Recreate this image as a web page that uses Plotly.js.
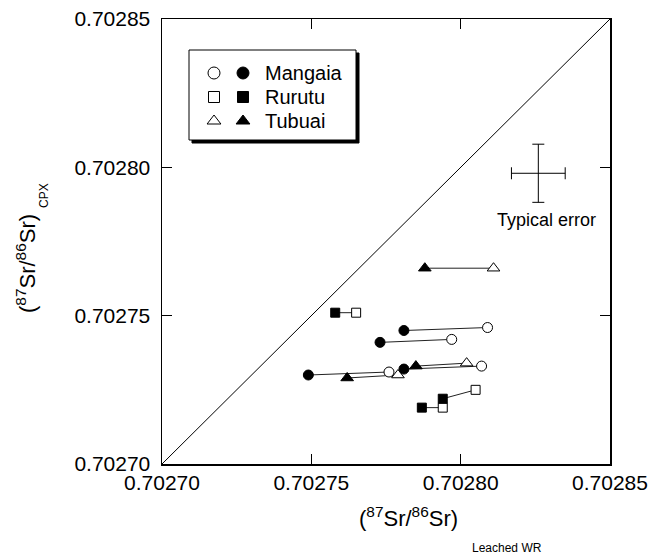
<!DOCTYPE html>
<html>
<head>
<meta charset="utf-8">
<script src="https://cdn.plot.ly/plotly-3.0.1.min.js"></script>
<style>html,body{margin:0;padding:0;background:#fff;}#plot{width:650px;height:559px;}</style>
</head>
<body>
<div id="plot"></div>
<script>
// ---- data ----
const tickVals = [0.70270, 0.70275, 0.70280, 0.70285];
const tickText = ['0.70270', '0.70275', '0.70280', '0.70285'];
const axisRange = [0.70270, 0.70285];

const mangaiaFilledX = [0.702781, 0.702773, 0.702749, 0.702781];
const mangaiaFilledY = [0.702745, 0.702741, 0.702730, 0.702732];
const mangaiaOpenX   = [0.702809, 0.702797, 0.702776, 0.702807];
const mangaiaOpenY   = [0.702746, 0.702742, 0.702731, 0.702733];

const rurutuFilledX = [0.702758, 0.702794, 0.702787];
const rurutuFilledY = [0.702751, 0.702722, 0.702719];
const rurutuOpenX   = [0.702765, 0.702805, 0.702794];
const rurutuOpenY   = [0.702751, 0.702725, 0.702719];

const tubuaiFilledX = [0.702788, 0.702762, 0.702785];
const tubuaiFilledY = [0.702766, 0.702729, 0.702733];
const tubuaiOpenX   = [0.702811, 0.702779, 0.702802];
const tubuaiOpenY   = [0.702766, 0.702730, 0.702734];

const errorX = [0.702826];
const errorY = [0.702798];
const errorHalfX = [0.000009];
const errorHalfY = [0.0000098];

const legendNames = ['Mangaia', 'Rurutu', 'Tubuai'];
const legendSymbols = ['circle', 'square', 'triangle-up'];

// ---- build traces ----
const traces = [];
// 1:1 line
traces.push({x: axisRange, y: axisRange, mode: 'lines', line: {color: '#000', width: 1}, hoverinfo: 'skip'});

function pairLines(fx, fy, ox, oy) {
  const xs = [], ys = [];
  for (let i = 0; i < fx.length; i++) { xs.push(fx[i], ox[i], null); ys.push(fy[i], oy[i], null); }
  return {x: xs, y: ys, mode: 'lines', line: {color: '#222', width: 1}, hoverinfo: 'skip'};
}
const groups = [
  [mangaiaFilledX, mangaiaFilledY, mangaiaOpenX, mangaiaOpenY, 'circle', 10],
  [rurutuFilledX, rurutuFilledY, rurutuOpenX, rurutuOpenY, 'square', 9],
  [tubuaiFilledX, tubuaiFilledY, tubuaiOpenX, tubuaiOpenY, 'triangle-up', 11]
];
groups.forEach(g => traces.push(pairLines(g[0], g[1], g[2], g[3])));
groups.forEach(g => traces.push({x: g[2], y: g[3], mode: 'markers',
  marker: {symbol: g[4], size: g[5], color: '#fff', line: {color: '#000', width: 1}}}));
groups.forEach(g => traces.push({x: g[0], y: g[1], mode: 'markers',
  marker: {symbol: g[4], size: g[5], color: '#000', line: {color: '#000', width: 1}}}));

// typical error cross
traces.push({x: errorX, y: errorY, mode: 'markers', marker: {size: 1, color: 'rgba(0,0,0,0)'},
  error_x: {type: 'data', array: errorHalfX, visible: true, color: '#000', thickness: 1, width: 6},
  error_y: {type: 'data', array: errorHalfY, visible: true, color: '#000', thickness: 1, width: 6}});

// legend keys on a pixel-unit overlay axis pair
const legRowsY = [73, 97, 121];
const legOpenX = 214, legFilledX = 243;
legendSymbols.forEach((s, i) => {
  const sz = s === 'circle' ? 12 : (s === 'square' ? 11 : 12);
  traces.push({x: [legOpenX], y: [legRowsY[i]], xaxis: 'x2', yaxis: 'y2', mode: 'markers',
    marker: {symbol: s, size: sz, color: '#fff', line: {color: '#000', width: 1}}});
  traces.push({x: [legFilledX], y: [legRowsY[i]], xaxis: 'x2', yaxis: 'y2', mode: 'markers',
    marker: {symbol: s, size: sz, color: '#000', line: {color: '#000', width: 1}}});
});

const font = 'Liberation Sans, Arial, Helvetica, sans-serif';
// paper coordinates from pixel positions
const px = v => (v - 162) / 448;
const py = v => (464 - v) / 445;
const annotations = [
  {xref: 'x2', yref: 'y2', x: 263, y: 73, xanchor: 'left', yanchor: 'middle', text: legendNames[0], showarrow: false, font: {size: 20, color: '#000', family: font}},
  {xref: 'x2', yref: 'y2', x: 263, y: 97, xanchor: 'left', yanchor: 'middle', text: legendNames[1], showarrow: false, font: {size: 20, color: '#000', family: font}},
  {xref: 'x2', yref: 'y2', x: 263, y: 121, xanchor: 'left', yanchor: 'middle', text: legendNames[2], showarrow: false, font: {size: 20, color: '#000', family: font}},
  {xref: 'x2', yref: 'y2', x: 546, y: 220, xanchor: 'center', yanchor: 'middle', text: 'Typical error', showarrow: false, font: {size: 18, color: '#000', family: font}},
  // x title
  {xref: 'paper', yref: 'paper', x: px(408), y: py(517), xanchor: 'center', yanchor: 'middle', text: '(<sup>87</sup>Sr/<sup>86</sup>Sr)', showarrow: false, font: {size: 22, color: '#000', family: font}},
  {xref: 'paper', yref: 'paper', x: px(470), y: py(548), xanchor: 'left', yanchor: 'middle', text: 'Leached WR', showarrow: false, font: {size: 12, color: '#000', family: font}},
  // y title
  {xref: 'paper', yref: 'paper', x: px(26), y: py(264), xanchor: 'center', yanchor: 'middle', textangle: -90, text: '(<sup>87</sup>Sr/<sup>86</sup>Sr)', showarrow: false, font: {size: 22, color: '#000', family: font}},
  {xref: 'paper', yref: 'paper', x: px(44), y: py(196), xanchor: 'center', yanchor: 'middle', textangle: -90, text: 'CPX', showarrow: false, font: {size: 12, color: '#000', family: font}}
];

const shapes = [
  {type: 'rect', xref: 'x2', yref: 'y2', x0: 192, y0: 53, x1: 359, y1: 143, fillcolor: '#000', line: {color: '#000', width: 1}, layer: 'below'},
  {type: 'rect', xref: 'x2', yref: 'y2', x0: 189, y0: 50, x1: 356, y1: 140, fillcolor: '#fff', line: {color: '#000', width: 1}, layer: 'below'}
];

const axisCommon = {
  range: axisRange, tickvals: tickVals, ticktext: tickText, ticks: 'inside', ticklen: 10, tickwidth: 1.2,
  tickcolor: '#000', showline: true, linecolor: '#000', linewidth: 1.5, mirror: 'ticks',
  showgrid: false, zeroline: false, tickfont: {size: 21, color: '#000', family: font}
};

const layout = {
  width: 650, height: 559,
  margin: {l: 162, r: 40, t: 19, b: 95},
  paper_bgcolor: '#fff', plot_bgcolor: '#fff',
  showlegend: false,
  xaxis: Object.assign({}, axisCommon, {ticklabelstandoff: -1}),
  yaxis: Object.assign({}, axisCommon, {ticklabelstandoff: 6}),
  xaxis2: {domain: [0, 1], range: [162, 610], overlaying: 'x', anchor: 'y2', visible: false, fixedrange: true},
  yaxis2: {domain: [0, 1], range: [464, 19], overlaying: 'y', anchor: 'x2', visible: false, fixedrange: true},
  annotations: annotations,
  shapes: shapes
};

Plotly.newPlot('plot', traces, layout, {displayModeBar: false, staticPlot: true});
</script>
</body>
</html>
